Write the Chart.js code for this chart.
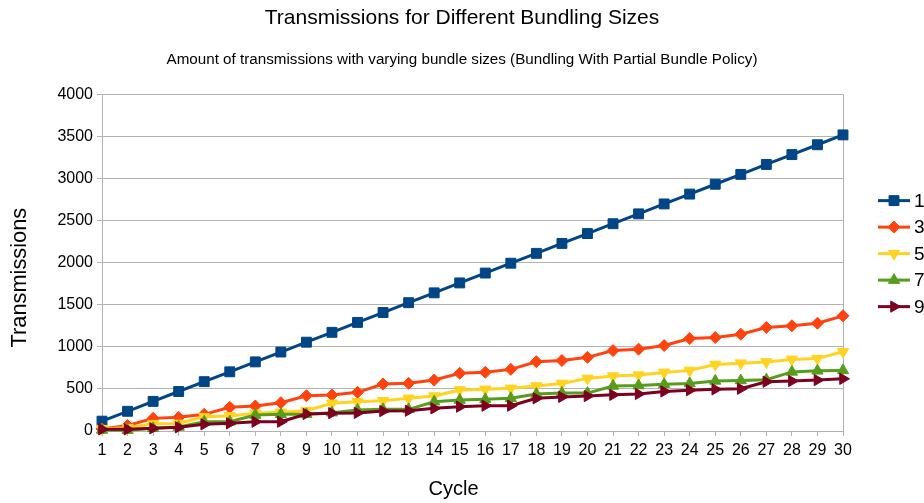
<!DOCTYPE html>
<html>
<head>
<meta charset="utf-8">
<script src="https://cdn.jsdelivr.net/npm/chart.js@4/dist/chart.umd.min.js"></script>
<style>
  html, body { margin: 0; padding: 0; background: #ffffff; }
  #wrap { width: 924px; height: 503px; }
</style>
</head>
<body>
<div id="wrap"><canvas id="chart" width="924" height="503"></canvas></div>
<script>
// Cycle numbers along the x axis
const cycles = ['1','2','3','4','5','6','7','8','9','10','11','12','13','14','15',
                '16','17','18','19','20','21','22','23','24','25','26','27','28','29','30'];

// Bundle sizes (one series each)
const bundleSizes = ['1', '3', '5', '7', '9'];

// Transmissions per cycle for each bundle size
const bundle1 = [117, 234, 352, 469, 586, 703, 821, 938, 1055, 1172,
                 1290, 1407, 1524, 1641, 1759, 1876, 1993, 2110, 2228, 2345,
                 2462, 2579, 2697, 2814, 2931, 3048, 3166, 3283, 3400, 3517];
const bundle3 = [25, 65, 150, 162, 198, 281, 297, 336, 419, 427,
                 459, 558, 566, 605, 685, 697, 732, 823, 837, 875,
                 955, 972, 1015, 1098, 1110, 1150, 1230, 1250, 1280, 1368];
const bundle5 = [28, 40, 87, 90, 170, 178, 210, 222, 241, 329,
                 348, 360, 388, 415, 487, 495, 507, 534, 565, 625,
                 652, 664, 696, 720, 790, 806, 820, 850, 860, 942];
const bundle7 = [12, 10, 32, 48, 110, 110, 190, 198, 198, 217,
                 249, 257, 257, 348, 368, 376, 388, 439, 450, 450,
                 535, 540, 555, 565, 595, 600, 610, 702, 715, 720];
const bundle9 = [20, 20, 32, 44, 79, 91, 110, 110, 202, 212,
                 215, 237, 241, 269, 289, 301, 301, 388, 405, 415,
                 430, 440, 470, 485, 495, 502, 585, 594, 605, 620];

// Y axis range and tick step
const yMin = 0;
const yMax = 4000;
const yStep = 500;

// Axis titles
const xTitle = 'Cycle';
const yTitle = 'Transmissions';

const seriesValues = [bundle1, bundle3, bundle5, bundle7, bundle9];
const seriesColors = ['#004586', '#ff420e', '#ffd320', '#579d1c', '#7e0021'];
const seriesMarkers = [
  { style: 'rect',     radius: 7,   rotation: 0 },
  { style: 'rectRot',  radius: 6,   rotation: 0 },
  { style: 'triangle', radius: 6.5, rotation: 180 },
  { style: 'triangle', radius: 6.5, rotation: 0 },
  { style: 'triangle', radius: 6.5, rotation: 90 }
];

const FONT = '"Liberation Sans", Arial, sans-serif';

const datasets = bundleSizes.map((name, i) => ({
  label: name,
  data: seriesValues[i],
  borderColor: seriesColors[i],
  backgroundColor: seriesColors[i],
  borderWidth: 3,
  pointStyle: seriesMarkers[i].style,
  pointRadius: seriesMarkers[i].radius,
  pointRotation: seriesMarkers[i].rotation,
  pointBorderWidth: 1,
  pointHoverRadius: seriesMarkers[i].radius,
  tension: 0,
  clip: false,
  order: bundleSizes.length - i   // later series drawn on top
}));

// Axis titles, placed relative to the plot area
const axisTitles = {
  id: 'axisTitles',
  afterDraw(chart) {
    const ctx = chart.ctx;
    const area = chart.chartArea;
    ctx.save();
    ctx.fillStyle = '#000000';
    ctx.textAlign = 'center';
    ctx.textBaseline = 'middle';
    ctx.font = '20px ' + FONT;
    ctx.fillText(xTitle, (area.left + area.right) / 2 - 19, chart.height - 14);
    ctx.translate(20, (area.top + area.bottom) / 2 + 15);
    ctx.rotate(-Math.PI / 2);
    ctx.font = '21.8px ' + FONT;
    ctx.fillText(yTitle, 0, 0);
    ctx.restore();
  }
};

// Legend on the right: line segment with the series marker, then the label
const lineLegend = {
  id: 'lineLegend',
  afterDraw(chart) {
    const ctx = chart.ctx;
    const area = chart.chartArea;
    const x0 = area.right + 35;
    const x1 = area.right + 67;
    const xm = area.right + 51;
    const rowGap = 26.5;
    const n = chart.data.datasets.length;
    const yStart = (area.top + area.bottom) / 2 - 9 - rowGap * (n - 1) / 2;
    ctx.save();
    chart.data.datasets.forEach((ds, i) => {
      const y = yStart + i * rowGap;
      ctx.strokeStyle = ds.borderColor;
      ctx.lineWidth = 3;
      ctx.beginPath();
      ctx.moveTo(x0, y);
      ctx.lineTo(x1, y);
      ctx.stroke();
      ctx.fillStyle = ds.backgroundColor;
      ctx.strokeStyle = ds.borderColor;
      ctx.lineWidth = 1;
      Chart.helpers.drawPoint(ctx, {
        pointStyle: ds.pointStyle,
        radius: ds.pointRadius,
        rotation: ds.pointRotation,
        borderWidth: 1
      }, xm, y);
      ctx.fillStyle = '#000000';
      ctx.font = '19px ' + FONT;
      ctx.textAlign = 'left';
      ctx.textBaseline = 'middle';
      ctx.fillText(ds.label, x1 + 4, y + 1);
    });
    ctx.restore();
  }
};

new Chart(document.getElementById('chart'), {
  type: 'line',
  data: { labels: cycles, datasets },
  options: {
    responsive: false,
    animation: false,
    devicePixelRatio: 1,
    layout: { padding: 0 },
    plugins: {
      legend: { display: false },
      tooltip: { enabled: false },
      title: {
        display: true,
        text: 'Transmissions for Different Bundling Sizes',
        color: '#000000',
        font: { family: FONT, size: 21, weight: 'normal' },
        padding: { top: 5.4, bottom: 20.4 }
      },
      subtitle: {
        display: true,
        text: 'Amount of transmissions with varying bundle sizes (Bundling With Partial Bundle Policy)',
        color: '#000000',
        font: { family: FONT, size: 15.2, weight: 'normal' },
        padding: { top: 0, bottom: 25.0 }
      }
    },
    scales: {
      x: {
        offset: false,
        afterFit(scale) { scale.height = 72; },
        border: { display: true, color: '#b3b3b3', width: 1 },
        grid: {
          color: (c) => (c.index === cycles.length - 1 ? '#b3b3b3' : 'rgba(0,0,0,0)'),
          tickColor: '#b3b3b3',
          tickLength: 5,
          lineWidth: 1
        },
        ticks: {
          color: '#000000',
          font: { family: FONT, size: 16 },
          padding: 5,
          autoSkip: false,
          maxRotation: 0,
          minRotation: 0
        },
        title: { display: false }
      },
      y: {
        min: yMin,
        max: yMax,
        afterFit(scale) { scale.width = 102; },
        border: { display: true, color: '#b3b3b3', width: 1 },
        grid: { color: '#b3b3b3', tickColor: '#b3b3b3', tickLength: 5, lineWidth: 1 },
        ticks: {
          stepSize: yStep,
          color: '#000000',
          font: { family: FONT, size: 16 },
          padding: 4,
          callback: (v) => String(v)
        },
        title: { display: false }
      },
      // empty right-hand axis that reserves room for the legend
      legendSpace: {
        type: 'linear',
        position: 'right',
        afterFit(scale) { scale.width = 81; },
        grid: { display: false, drawTicks: false },
        border: { display: false },
        ticks: { display: false }
      }
    }
  },
  plugins: [axisTitles, lineLegend]
});
</script>
</body>
</html>
